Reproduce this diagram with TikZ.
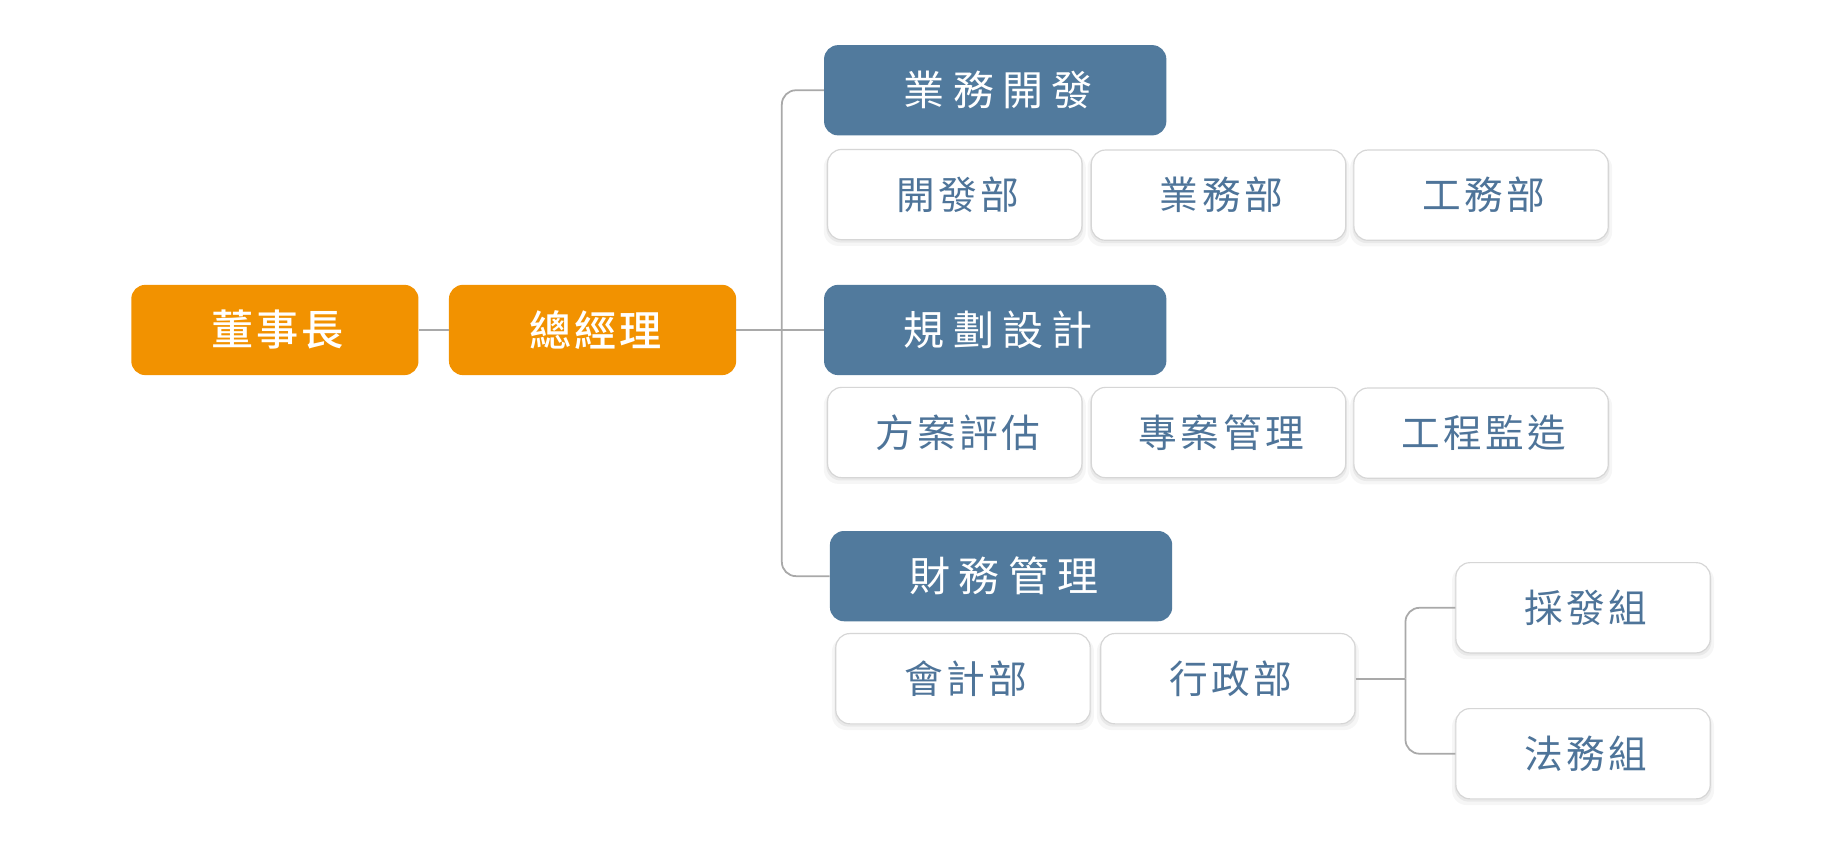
\documentclass[tikz,border=0pt]{standalone}
\usepackage{fontspec}
\setmainfont{Noto Sans CJK TC}
\newfontfamily\cjkm{Noto Sans CJK TC Medium}
\usetikzlibrary{shadows}
\definecolor{orangebox}{HTML}{F29200}
\definecolor{bluebox}{HTML}{517A9D}
\definecolor{bluetext}{HTML}{4E7499}
\definecolor{boxline}{HTML}{D6D6D6}
\definecolor{connline}{HTML}{A9A9A9}
\newcommand{\tx}[1]{\hspace*{5pt}\raisebox{-2pt}{#1}}
\tikzset{
  topbox/.style={rounded corners=12pt, fill=orangebox, minimum width=245pt, minimum height=77pt, inner sep=0pt, text=white, font=\cjkm\fontsize{36}{42}\selectfont},
  headbox/.style={rounded corners=12pt, fill=bluebox, minimum width=292pt, minimum height=77pt, inner sep=0pt, text=white, font=\fontsize{35}{42}\selectfont},
  subbox/.style={rounded corners=12pt, fill=white, draw=boxline, line width=1pt, minimum width=217pt, minimum height=77pt, inner sep=0pt, text=bluetext, font=\fontsize{33}{40}\selectfont,
    general shadow={fill=black, opacity=0.035, shadow xshift=0pt, shadow yshift=-4pt, shadow scale=1.03},
    general shadow={fill=black, opacity=0.05, shadow xshift=0pt, shadow yshift=-2pt, shadow scale=1.01}},
  conn/.style={draw=connline, line width=1.5pt},
}
\begin{document}
\begin{tikzpicture}[x=1pt,y=-1pt]
\useasboundingbox (0,0) rectangle (1568,738);
\fill[white] (0,0) rectangle (1568,738);
% top level
\node[topbox] (chair) at (234.5,281.5) {\tx{董\kern2.5pt 事\kern2.5pt 長}};
\node[topbox] (gm) at (505.5,281.5) {\tx{總\kern2.5pt 經\kern2.5pt 理}};
% headers
\node[headbox] (biz) at (849,77) {\tx{業\kern7pt 務\kern7pt 開\kern7pt 發}};
\node[headbox] (plan) at (849,281.5) {\tx{規\kern7pt 劃\kern7pt 設\kern7pt 計}};
\node[headbox] (fin) at (854,491.5) {\tx{財\kern7pt 務\kern7pt 管\kern7pt 理}};
% sub boxes
\node[subbox] (dev) at (814.5,166) {\tx{開\kern3pt 發\kern3pt 部}};
\node[subbox] (bizd) at (1039.5,166.5) {\tx{業\kern3pt 務\kern3pt 部}};
\node[subbox] (eng) at (1263.5,166.5) {\tx{工\kern3pt 務\kern3pt 部}};
\node[subbox] (eval) at (814.5,369) {\tx{方\kern3pt 案\kern3pt 評\kern3pt 估}};
\node[subbox] (proj) at (1039.5,369) {\tx{專\kern3pt 案\kern3pt 管\kern3pt 理}};
\node[subbox] (sup) at (1263.5,369.5) {\tx{工\kern3pt 程\kern3pt 監\kern3pt 造}};
\node[subbox] (acc) at (821.5,579) {\tx{會\kern3pt 計\kern3pt 部}};
\node[subbox] (adm) at (1047.5,579) {\tx{行\kern3pt 政\kern3pt 部}};
\node[subbox] (pur) at (1350.5,518.5) {\tx{採\kern3pt 發\kern3pt 組}};
\node[subbox] (law) at (1350.5,643) {\tx{法\kern3pt 務\kern3pt 組}};
% connectors
\coordinate (t) at (667,281.5);
\coordinate (u) at (1199,579);
\draw[conn] (chair.east) -- (gm.west);
\draw[conn] (gm.east) -- (plan.west);
\draw[conn, rounded corners=12pt] (t) |- (biz.west);
\draw[conn, rounded corners=12pt] (t) |- (fin.west);
\draw[conn] (adm.east) -- (u);
\draw[conn, rounded corners=12pt] (u) |- (pur.west);
\draw[conn, rounded corners=12pt] (u) |- (law.west);
\end{tikzpicture}
\end{document}
